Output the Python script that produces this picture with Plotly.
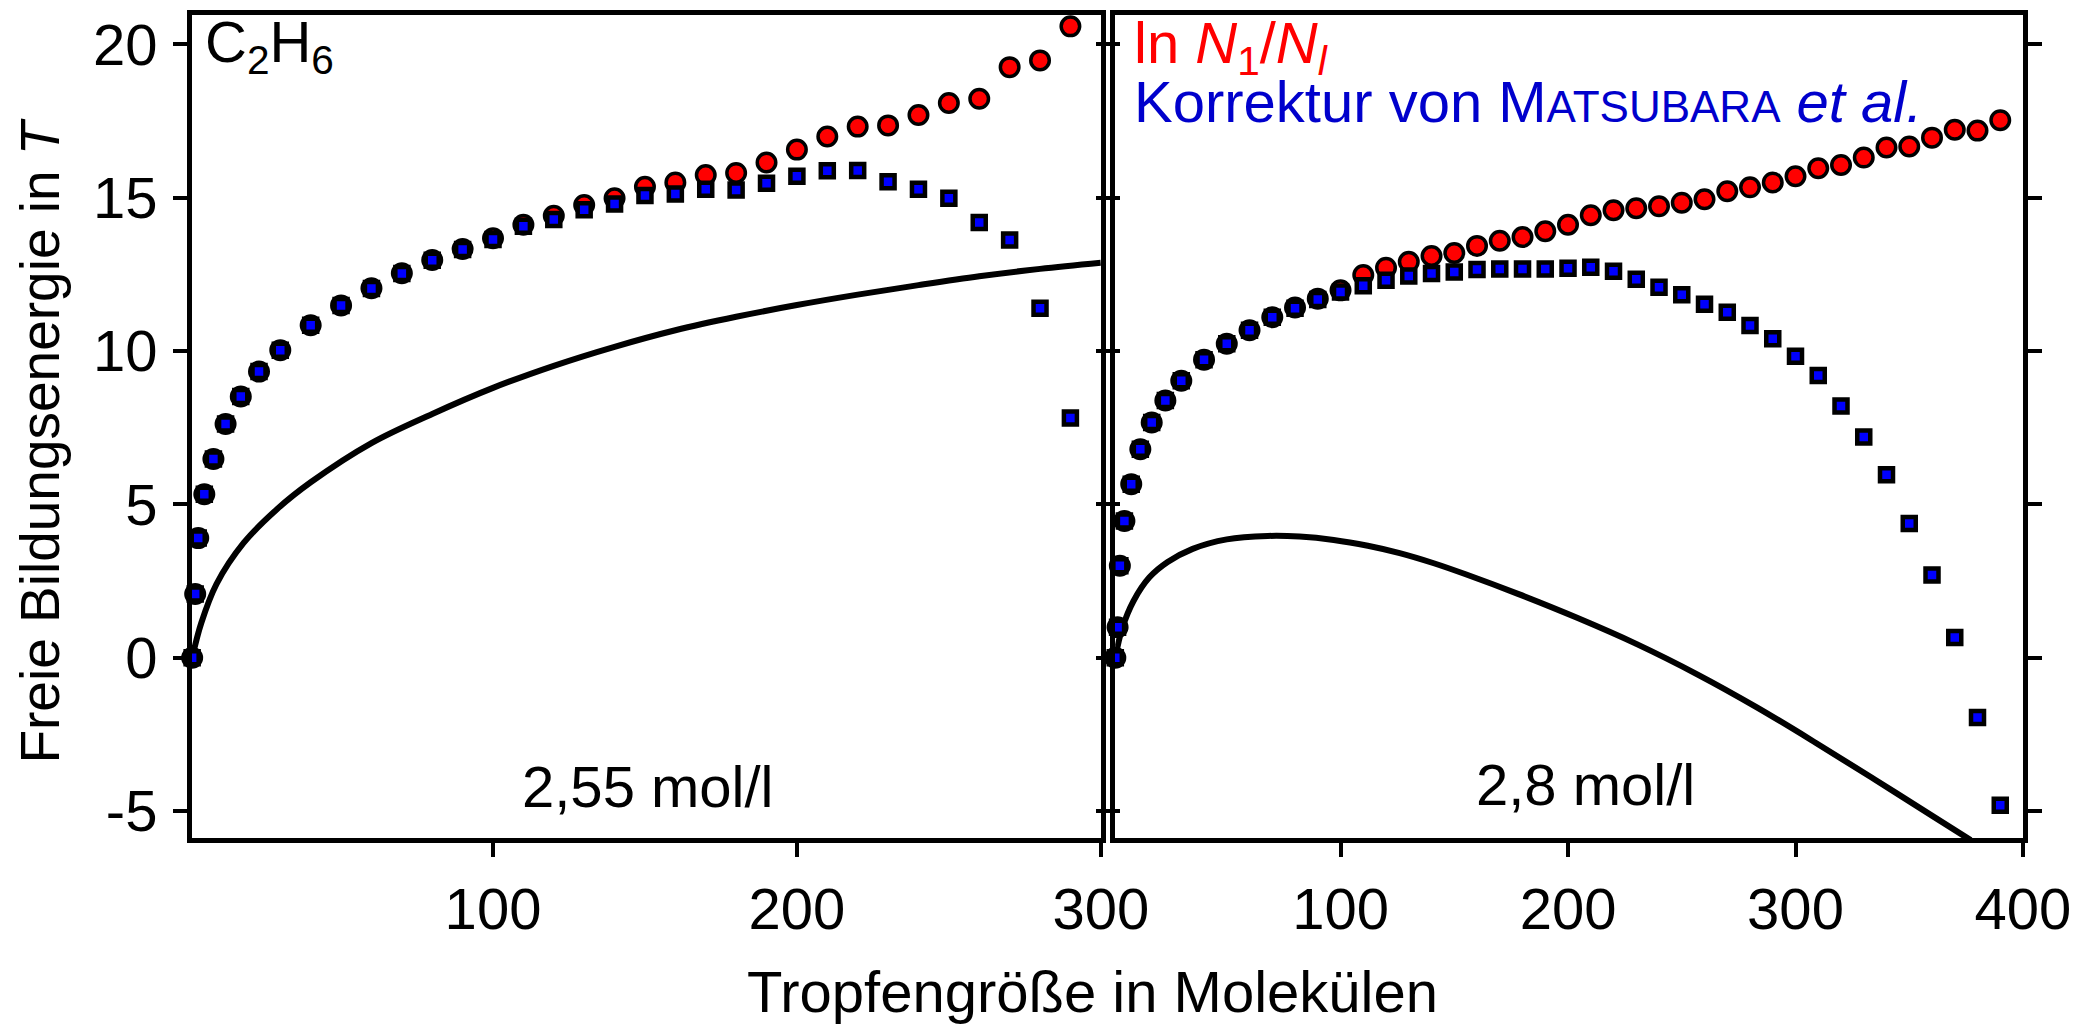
import plotly.graph_objects as go

# ---------------- data ----------------
n_left = [1, 2, 3, 5, 8, 12, 17, 23, 30, 40, 50, 60, 70, 80, 90, 100, 110, 120, 130, 140,
          150, 160, 170, 180, 190, 200, 210, 220, 230, 240, 250, 260, 270, 280, 290]
red_left = [0.0, 2.08, 3.90, 5.33, 6.48, 7.62, 8.52, 9.33, 10.03, 10.84, 11.49, 12.05, 12.54,
            12.97, 13.33, 13.68, 14.12, 14.41, 14.76, 14.98, 15.36, 15.50, 15.74, 15.81, 16.15,
            16.57, 17.00, 17.32, 17.36, 17.70, 18.09, 18.23, 19.26, 19.48, 20.59]
blue_left = [0.0, 2.08, 3.90, 5.33, 6.48, 7.62, 8.52, 9.33, 10.03, 10.84, 11.49, 12.04, 12.53,
             12.96, 13.31, 13.64, 14.07, 14.29, 14.61, 14.80, 15.07, 15.12, 15.28, 15.25, 15.47,
             15.70, 15.88, 15.89, 15.52, 15.28, 14.98, 14.19, 13.62, 11.40, 7.82]
curve_left_n = [1, 4, 9, 18, 29, 40, 60, 80, 100, 120, 140, 160, 180, 200, 220, 240, 260, 280, 300]
curve_left_g = [0.0, 1.13, 2.40, 3.75, 4.85, 5.72, 7.00, 7.95, 8.80, 9.52, 10.14, 10.68, 11.12,
                11.50, 11.84, 12.15, 12.44, 12.68, 12.88]

n_right = [1, 2, 3, 5, 8, 12, 17, 23, 30, 40, 50, 60, 70, 80, 90, 100, 110, 120, 130, 140,
           150, 160, 170, 180, 190, 200, 210, 220, 230, 240, 250, 260, 270, 280, 290, 300,
           310, 320, 330, 340, 350, 360, 370, 380, 390]
red_right = [0.0, 0.99, 3.00, 4.46, 5.66, 6.80, 7.67, 8.39, 9.03, 9.72, 10.24, 10.68, 11.10,
             11.42, 11.71, 11.98, 12.48, 12.72, 12.91, 13.10, 13.20, 13.43, 13.60, 13.72, 13.91,
             14.12, 14.43, 14.59, 14.66, 14.72, 14.84, 14.95, 15.21, 15.34, 15.50, 15.70, 15.96,
             16.07, 16.31, 16.64, 16.67, 16.96, 17.22, 17.19, 17.53]
blue_right = [0.0, 0.99, 3.00, 4.46, 5.66, 6.80, 7.67, 8.39, 9.03, 9.72, 10.24, 10.68, 11.10,
              11.40, 11.68, 11.93, 12.13, 12.31, 12.45, 12.53, 12.58, 12.66, 12.68, 12.68, 12.68,
              12.70, 12.73, 12.60, 12.34, 12.08, 11.84, 11.53, 11.27, 10.83, 10.40, 9.83, 9.20,
              8.21, 7.20, 5.97, 4.38, 2.70, 0.66, -1.95, -4.81]
curve_right_n = [1, 4, 9, 16, 24, 35, 50, 68, 82, 97, 112, 126, 141, 155, 178, 204, 230,
                 257, 283, 309, 335, 361, 377]
curve_right_g = [0.0, 0.95, 1.85, 2.62, 3.12, 3.55, 3.86, 3.97, 3.95, 3.84, 3.65, 3.41, 3.08,
                 2.72, 2.08, 1.30, 0.45, -0.55, -1.62, -2.78, -3.98, -5.20, -5.95]

y_tickvals = [-5, 0, 5, 10, 15, 20]
y_ticktext = ["-5", "0", "5", "10", "15", "20"]
x_left_ticks = [100, 200, 300]
x_right_ticks = [100, 200, 300, 400]

# ---------------- layout geometry (page pixels; body margin of the html page = 8 px) ----------------
OFF = 8
W, H = 2081 - OFF, 1026 - OFF
LEFT_PAGE, RIGHT_PAGE, TOP_PAGE, BOTTOM_PAGE = 191.5, 2023.5, 14.5, 838.5
L, T = LEFT_PAGE - OFF, TOP_PAGE - OFF
R = W - (RIGHT_PAGE - OFF)
B = H - (BOTTOM_PAGE - OFF)
PW, PH = W - L - R, H - T - B
FONT = "Liberation Sans, Arial, sans-serif"
FS = 58


def px(xp):
    return (xp - OFF - L) / PW


def py(yp):
    return 1 - (yp - OFF - T) / PH


fig = go.Figure()

line_style = dict(color="black", width=6, shape="spline", smoothing=1.0)
red_marker = dict(symbol="circle", size=18.5, color="#ff0000", line=dict(color="black", width=3.5))
blue_marker = dict(symbol="square", size=13, color="#0000ff", line=dict(color="black", width=4.5))

for xa, ya, cn, cg, nn, rr, bb in [
    ("x", "y", curve_left_n, curve_left_g, n_left, red_left, blue_left),
    ("x2", "y2", curve_right_n, curve_right_g, n_right, red_right, blue_right),
]:
    fig.add_trace(go.Scatter(x=cn, y=cg, mode="lines", line=line_style, xaxis=xa, yaxis=ya,
                             showlegend=False, hoverinfo="skip"))
    fig.add_trace(go.Scatter(x=nn, y=rr, mode="markers", marker=red_marker, xaxis=xa, yaxis=ya,
                             showlegend=False, cliponaxis=False))
    fig.add_trace(go.Scatter(x=nn, y=bb, mode="markers", marker=blue_marker, xaxis=xa, yaxis=ya,
                             showlegend=False, cliponaxis=False))

axis_common = dict(showgrid=False, zeroline=False, showline=True, linecolor="black", linewidth=5,
                   ticks="outside", ticklen=14, tickwidth=4, tickcolor="black",
                   tickfont=dict(family=FONT, size=FS, color="black"))

yrange = [-5.88, 20.96]
split_l = (1100.8 - OFF - L) / PW
split_r = (1115.2 - OFF - L) / PW

fig.update_layout(
    width=W, height=H,
    margin=dict(l=L, r=R, t=T, b=B, autoexpand=False),
    paper_bgcolor="white", plot_bgcolor="white",
    font=dict(family=FONT, size=FS, color="black"),
    xaxis=dict(domain=[0, split_l], range=[0.95, 300], tickvals=x_left_ticks, mirror=True,
               anchor="y", ticklabelstandoff=2, **axis_common),
    yaxis=dict(domain=[0, 1], range=yrange, tickvals=y_tickvals, ticktext=y_ticktext,
               mirror="ticks", anchor="x", ticklabelstandoff=4, **axis_common),
    xaxis2=dict(domain=[split_r, 1], range=[0.95, 400], tickvals=x_right_ticks, mirror=True,
                anchor="y2", ticklabelstandoff=2, **axis_common),
    yaxis2=dict(domain=[0, 1], range=yrange, tickvals=y_tickvals, showticklabels=False,
                mirror="ticks", anchor="x2", **axis_common),
)

ann = [
    dict(text="C<sub>2</sub>H<sub>6</sub>", x=px(203), y=py(6), xanchor="left", yanchor="top",
         font=dict(family=FONT, size=FS, color="black")),
    dict(text="ln <i>N</i><sub>1</sub>/<i>N<sub>l</sub></i>", x=px(1132), y=py(7),
         xanchor="left", yanchor="top", font=dict(family=FONT, size=FS, color="#ff0000")),
    dict(text="Korrektur von M<span style='font-size:44px'>ATSUBARA</span> <i>et al.</i>",
         x=px(1132), y=py(67), xanchor="left", yanchor="top",
         font=dict(family=FONT, size=FS, color="#0000cc")),
    dict(text="2,55 mol/l", x=px(647), y=py(752), xanchor="center", yanchor="top",
         font=dict(family=FONT, size=FS, color="black")),
    dict(text="2,8 mol/l", x=px(1586), y=py(750), xanchor="center", yanchor="top",
         font=dict(family=FONT, size=FS, color="black")),
    dict(text="Tropfengröße in Molekülen", x=px(1092), y=py(958), xanchor="center",
         yanchor="top", font=dict(family=FONT, size=FS, color="black")),
    dict(text="Freie Bildungsenergie in <i>T</i>", x=px(39), y=py(441), xanchor="center",
         yanchor="middle", textangle=-90, font=dict(family=FONT, size=55, color="black")),
]
for a in ann:
    a.update(xref="paper", yref="paper", showarrow=False)
fig.update_layout(annotations=ann)

fig.write_html("out.html")
